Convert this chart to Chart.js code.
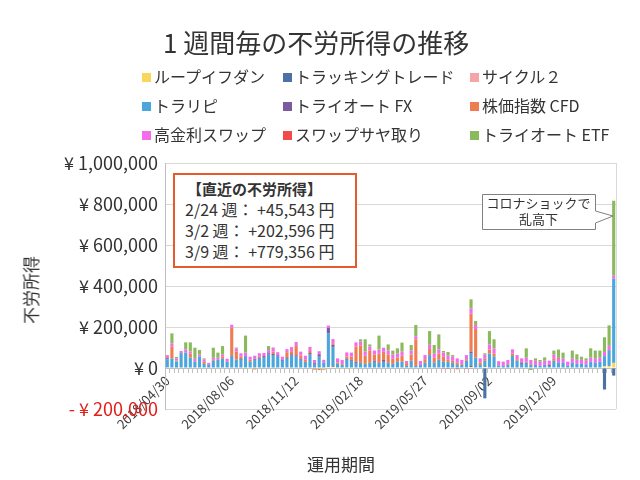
<!DOCTYPE html>
<html lang="ja">
<head>
<meta charset="utf-8">
<script src="https://cdn.jsdelivr.net/npm/chart.js@4.4.1/dist/chart.umd.min.js"></script>
<style>
  html, body { margin: 0; padding: 0; background: #fff; }
  #wrap { position: relative; width: 640px; height: 480px; overflow: hidden;
          font-family: "Noto Sans CJK JP", "Noto Sans", sans-serif; color: #333; }
  #chart { position: absolute; left: 0; top: 0; }
  .title { position: absolute; left: 163px; top: 27px; font-size: 26px; line-height: 30px; white-space: nowrap; }
  .lg { position: absolute; font-size: 16px; line-height: 20px; white-space: nowrap; }
  .lg span { display: inline-block; width: 9px; height: 9px; margin-right: 3px; vertical-align: 1px; }
  .ytitle { position: absolute; left: 30px; top: 290px; font-size: 17px; white-space: nowrap;
            transform: translate(-50%, -50%) rotate(-90deg); }
  .xtitle { position: absolute; left: 341px; top: 463px; font-size: 17px; transform: translate(-50%, -50%); }
  .box { position: absolute; left: 173px; top: 173px; width: 170px; height: 88px; border: 2px solid #E55B2C;
         background: #fff; font-size: 16px; line-height: 21px; padding: 3px 0 0 10px; box-sizing: content-box; }
  .box b { display: block; margin-left: 2px; font-size: 15px; }
  .callout { position: absolute; left: 0; top: 0; }
  .ctext { position: absolute; left: 482px; top: 195px; width: 113px; text-align: center; font-size: 13px; line-height: 16px; }
</style>
</head>
<body>
<div id="wrap">
  <canvas id="chart" width="640" height="480"></canvas>
  <div class="title">1 週間毎の不労所得の推移</div>
  <div id="legend"></div>
  <div class="ytitle">不労所得</div>
  <div class="xtitle">運用期間</div>
  <div class="box">
    <b>【直近の不労所得】</b>
    2/24 週： +45,543 円<br>
    3/2 週： +202,596 円<br>
    3/9 週： +779,356 円
  </div>
  <svg class="callout" width="640" height="480">
    <path d="M482.5,194.5 H595.5 V211 L613,216 L595.5,223 V229.5 H482.5 Z" fill="#fff" stroke="#808080" stroke-width="1"/>
  </svg>
  <div class="ctext">コロナショックで<br>乱高下</div>
</div>
<script>
// weekly income, unit: 1,000 yen, 98 weeks from 2018/04/30
const unit = 1000;

const loopIfdone = [
  0,0,0,0,0,0,0,0,-3,-2,0,0,-4,0,
  0,0,-3,0,-5,-3,0,0,0,0,0,0,0,0,
  0,0,0,0,-3,-4,-6,5,5,-5,-4,-3,-5,0,
  0,0,0,0,0,0,0,0,0,0,0,0,0,0,
  0,0,0,0,0,0,0,0,0,0,5,0,0,5,
  0,0,3,0,0,0,0,0,0,0,0,0,0,0,
  0,0,0,0,0,0,0,0,0,0,0,8,10,25
];
const trackingTrade = [
  0,0,0,0,0,0,0,0,0,0,0,0,0,0,
  0,0,0,0,0,0,0,0,0,0,0,0,0,0,
  0,0,0,0,0,0,0,0,3,0,0,0,0,0,
  0,0,0,0,0,0,0,0,0,0,0,0,0,0,
  0,3,0,0,0,0,0,0,0,0,5,0,0,-148,
  0,0,0,0,0,0,0,0,0,0,0,0,0,0,
  0,0,0,0,0,0,0,0,0,0,0,-105,0,-37
];
const cycle2 = [
  3,0,2,0,0,0,0,0,0,0,0,0,0,0,
  0,0,0,0,0,0,0,0,0,0,0,0,0,0,
  0,0,0,0,0,0,0,0,0,0,0,0,0,0,
  0,0,0,0,0,0,0,0,0,0,0,0,0,0,
  0,0,0,0,0,0,0,0,0,0,0,0,0,0,
  0,0,0,0,0,0,0,0,0,0,0,0,0,0,
  0,0,0,0,0,0,0,0,0,0,0,0,0,0
];
const traripi = [
  40,47,30,70,75,50,30,55,20,15,35,40,45,30,
  55,40,40,55,30,40,45,50,65,60,55,35,45,60,
  55,40,30,65,20,55,25,165,95,20,15,40,35,25,
  25,20,25,30,25,30,25,20,30,30,10,35,10,15,
  25,60,25,40,30,30,25,15,15,35,60,50,15,30,
  70,55,10,10,15,55,35,20,25,15,15,10,15,10,
  35,25,25,10,25,20,20,15,30,25,30,50,75,410
];
const triautoFx = [
  5,0,0,5,0,0,0,0,0,0,0,0,0,0,
  6,0,7,5,0,5,6,8,7,10,7,5,7,7,
  7,5,0,8,4,12,0,25,10,0,0,6,5,5,
  0,0,0,5,0,9,0,0,0,0,0,0,0,0,
  0,0,0,0,0,0,0,0,0,0,10,0,0,0,
  0,0,0,0,0,6,0,7,0,0,0,0,0,6,
  0,0,0,0,0,0,0,0,0,0,0,0,3,0
];
const indexCfd = [
  5,57,5,0,0,20,0,0,10,0,5,0,10,0,
  135,40,10,0,10,-4,6,0,0,10,0,0,25,15,
  45,15,10,10,-5,-6,-4,0,8,7,4,10,15,75,
  85,40,60,30,45,40,40,25,20,30,14,30,130,0,
  18,30,25,30,25,10,10,12,4,8,185,140,12,10,
  20,15,0,0,4,10,8,0,5,4,0,0,0,0,
  10,0,0,0,0,0,0,0,0,0,0,0,0,0
];
const highSwap = [
  10,16,10,8,15,10,15,10,12,10,10,10,10,15,
  15,15,15,15,15,15,15,15,15,20,15,15,15,20,
  20,20,20,20,15,15,15,12,20,20,20,20,20,20,
  20,20,20,20,20,20,20,20,20,20,10,20,15,19,
  20,20,20,20,20,20,20,20,20,20,25,20,20,20,
  25,25,20,21,20,20,20,20,20,20,20,20,20,20,
  20,20,20,21,20,20,20,20,20,20,20,20,20,15
];
const swapSaya = [
  0,0,0,0,0,0,0,0,0,0,0,0,0,0,
  0,0,0,0,0,0,0,0,0,0,0,0,0,0,
  0,0,0,0,0,0,0,0,0,0,0,0,0,0,
  0,0,0,0,0,0,0,0,0,0,0,0,0,0,
  0,0,0,0,-4,-5,-3,-6,0,-4,-3,0,0,0,
  0,0,0,0,0,0,0,0,0,0,0,0,0,0,
  0,5,0,0,0,0,0,0,0,0,0,0,0,0
];
const triautoEtf = [
  0,49,7,0,35,45,54,23,5,0,49,25,42,0,
  0,5,0,83,0,0,0,0,20,0,0,0,0,0,
  0,0,0,0,0,0,0,0,0,0,0,0,0,0,
  10,60,10,0,68,0,30,20,26,44,0,27,55,0,
  0,67,42,74,8,18,8,0,0,0,45,19,0,7,
  65,45,0,0,0,0,0,0,46,-10,12,9,17,0,
  20,40,30,0,40,27,15,12,46,40,35,72,100,366
];

const seriesNames = ['ループイフダン', 'トラッキングトレード', 'サイクル２',
  'トラリピ', 'トライオート FX', '株価指数 CFD',
  '高金利スワップ', 'スワップサヤ取り', 'トライオート ETF'];
const seriesColors = ['#F8D85A', '#4A72A6', '#F4A6A6',
  '#4BA6DD', '#7B5B9E', '#F07D52',
  '#F26CEB', '#F04A4A', '#8BBA5C'];
const seriesData = [loopIfdone, trackingTrade, cycle2, traripi, triautoFx,
  indexCfd, highSwap, swapSaya, triautoEtf];

// week labels
const weeks = [];
const start = Date.UTC(2018, 3, 30);
for (let i = 0; i < traripi.length; i++) {
  const d = new Date(start + i * 7 * 86400000);
  weeks.push(d.getUTCFullYear() + '/' + String(d.getUTCMonth() + 1).padStart(2, '0') + '/' +
    String(d.getUTCDate()).padStart(2, '0'));
}
const labelEvery = 14;

const yMin = -200000, yMax = 1000000, yStep = 200000;

// legend in a 3 column grid like the original
const legendCols = [142, 283, 470];
const legendRows = [66, 95, 124];
const legend = document.getElementById('legend');
seriesNames.forEach((name, i) => {
  const el = document.createElement('div');
  el.className = 'lg';
  el.style.left = legendCols[i % 3] + 'px';
  el.style.top = legendRows[Math.floor(i / 3)] + 'px';
  el.innerHTML = '<span style="background:' + seriesColors[i] + '"></span>' + name;
  legend.appendChild(el);
});

const font = '"Noto Sans CJK JP", "Noto Sans", sans-serif';

// right edge of the plot frame
const frame = {
  id: 'frame',
  afterDraw(chart) {
    const { ctx, chartArea } = chart;
    ctx.save();
    ctx.strokeStyle = '#D9D9D9';
    ctx.lineWidth = 1;
    ctx.beginPath();
    ctx.moveTo(Math.round(chartArea.right) + 0.5, chartArea.top);
    ctx.lineTo(Math.round(chartArea.right) + 0.5, chartArea.bottom);
    ctx.stroke();
    ctx.restore();
  }
};

new Chart(document.getElementById('chart'), {
  type: 'bar',
  data: {
    labels: weeks,
    datasets: seriesData.map((arr, i) => ({
      label: seriesNames[i],
      data: arr.map(v => v * unit),
      backgroundColor: seriesColors[i],
      barPercentage: 0.68,
      categoryPercentage: 1
    }))
  },
  options: {
    responsive: false,
    animation: false,
    layout: { padding: { left: 0, top: 163, right: 24, bottom: 71 } },
    plugins: { legend: { display: false }, tooltip: { enabled: false } },
    scales: {
      x: {
        stacked: true,
        position: { y: 0 },
        grid: { display: true, drawOnChartArea: false, drawTicks: true, tickLength: 4, color: '#BFBFBF', offset: true },
        border: { display: true, color: '#BFBFBF' },
        ticks: {
          autoSkip: false, maxRotation: 45, minRotation: 45, padding: 1,
          font: { family: font, size: 13 }, color: '#404040',
          callback: (v, i) => i % labelEvery === 0 ? weeks[i] : ''
        }
      },
      y: {
        stacked: true,
        min: yMin, max: yMax,
        afterFit: s => { s.width = 165; },
        grid: { color: '#D9D9D9', drawTicks: false },
        border: { display: true, color: '#BFBFBF' },
        ticks: {
          stepSize: yStep, padding: 7,
          font: { family: font, size: 18 },
          color: ctx => ctx.tick.value < 0 ? '#E0201B' : '#333',
          callback: v => v === 0 ? '¥ 0' : v < 0 ? '- ¥ ' + Math.abs(v).toLocaleString('en-US')
            : '¥ ' + v.toLocaleString('en-US')
        }
      }
    }
  },
  plugins: [frame]
});
</script>
</body>
</html>
